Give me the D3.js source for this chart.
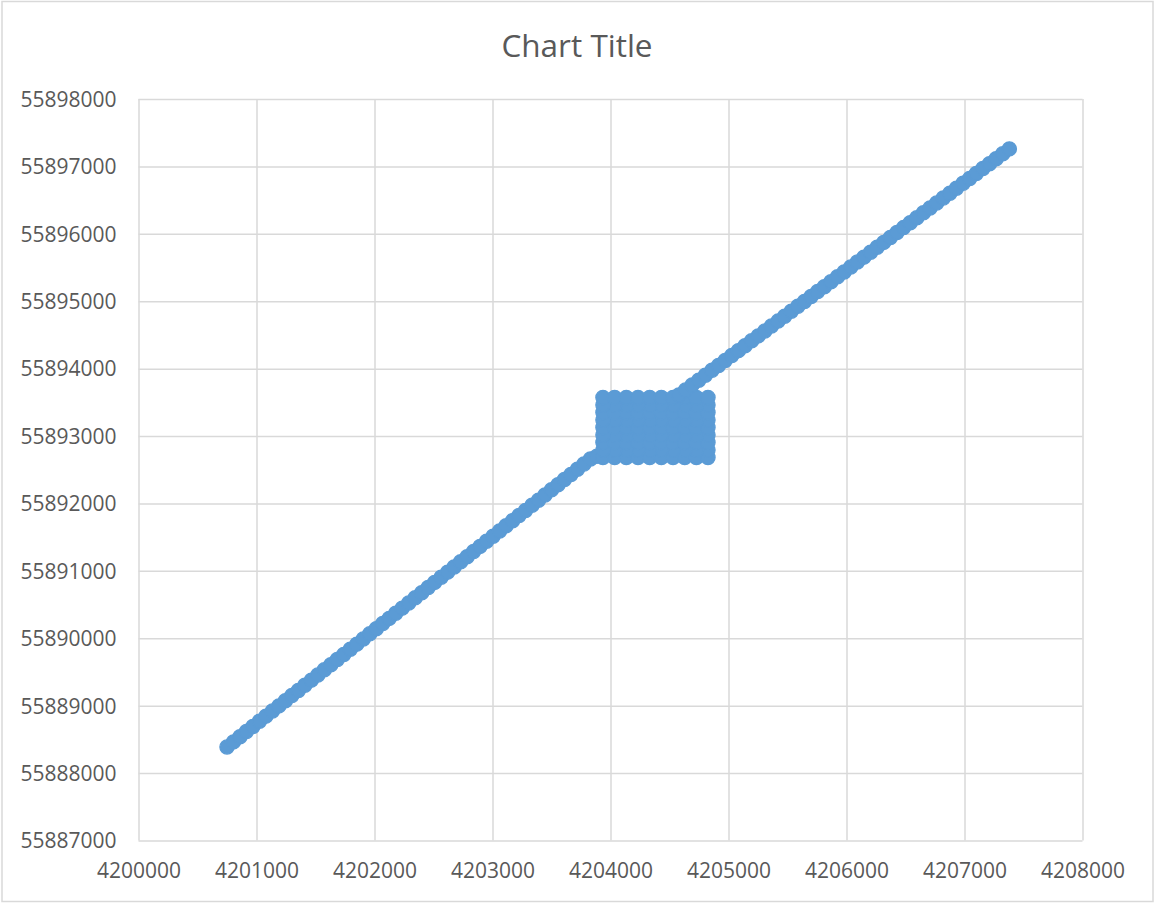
<!DOCTYPE html>
<html>
<head>
<meta charset="utf-8">
<script src="https://cdn.jsdelivr.net/npm/d3@7"></script>
<style>
  html, body { margin: 0; padding: 0; background: #ffffff; }
  svg { display: block; font-family: "Open Sans", "Noto Sans", sans-serif; }
</style>
</head>
<body>
<svg id="chart" width="1155" height="903"></svg>
<script>
// GPS track: [easting, northing]
const approachTrack = [
  [4200750, 55888387], [4200805, 55888463], [4200860, 55888540], [4200915, 55888616],
  [4200970, 55888692], [4201025, 55888769], [4201080, 55888845], [4201135, 55888921],
  [4201190, 55888997], [4201245, 55889074], [4201300, 55889150], [4201355, 55889226],
  [4201410, 55889303], [4201465, 55889379], [4201520, 55889455], [4201575, 55889532],
  [4201630, 55889608], [4201685, 55889684], [4201740, 55889760], [4201795, 55889837],
  [4201850, 55889913], [4201905, 55889989], [4201960, 55890066], [4202015, 55890142],
  [4202070, 55890218], [4202125, 55890295], [4202180, 55890371], [4202235, 55890447],
  [4202290, 55890523], [4202345, 55890600], [4202400, 55890676], [4202455, 55890752],
  [4202510, 55890829], [4202565, 55890905], [4202620, 55890981], [4202675, 55891058],
  [4202730, 55891134], [4202785, 55891210], [4202840, 55891286], [4202895, 55891363],
  [4202950, 55891439], [4203005, 55891515], [4203060, 55891592], [4203115, 55891668],
  [4203170, 55891744], [4203225, 55891821], [4203280, 55891897], [4203335, 55891973],
  [4203390, 55892049], [4203445, 55892126], [4203500, 55892202], [4203555, 55892278],
  [4203610, 55892355], [4203665, 55892431], [4203720, 55892507], [4203775, 55892584],
  [4203830, 55892660], [4203885, 55892700]
];

// survey block: column eastings and row northings
const gridColumns = [4203936, 4204035, 4204134, 4204233, 4204332, 4204431, 4204530, 4204629, 4204728, 4204826];
const gridRows = [55892683, 55892794, 55892906, 55893017, 55893128, 55893239, 55893350, 55893462, 55893573];

const departureTrack = [
  [4204580, 55893610], [4204636, 55893683], [4204692, 55893756], [4204748, 55893829],
  [4204804, 55893902], [4204860, 55893975], [4204916, 55894048], [4204972, 55894121],
  [4205028, 55894194], [4205084, 55894267], [4205140, 55894340], [4205196, 55894413],
  [4205252, 55894486], [4205308, 55894559], [4205364, 55894632], [4205420, 55894705],
  [4205476, 55894778], [4205532, 55894851], [4205588, 55894924], [4205644, 55894997],
  [4205700, 55895070], [4205756, 55895143], [4205812, 55895216], [4205868, 55895289],
  [4205924, 55895362], [4205980, 55895435], [4206036, 55895508], [4206092, 55895581],
  [4206148, 55895654], [4206204, 55895727], [4206260, 55895800], [4206316, 55895873],
  [4206372, 55895946], [4206428, 55896019], [4206484, 55896092], [4206540, 55896165],
  [4206596, 55896238], [4206652, 55896311], [4206708, 55896384], [4206764, 55896457],
  [4206820, 55896530], [4206876, 55896603], [4206932, 55896676], [4206988, 55896749],
  [4207044, 55896822], [4207100, 55896895], [4207156, 55896968], [4207212, 55897041],
  [4207268, 55897114], [4207324, 55897187], [4207380, 55897260]
];

const xTicks = [4200000, 4201000, 4202000, 4203000, 4204000, 4205000, 4206000, 4207000, 4208000];
const yTicks = [55887000, 55888000, 55889000, 55890000, 55891000, 55892000, 55893000,
                55894000, 55895000, 55896000, 55897000, 55898000];
const chartTitle = "Chart Title";

// survey block points in serpentine order
const surveyGrid = [];
gridRows.forEach((ry, ri) => {
  const cols = ri % 2 === 0 ? gridColumns : gridColumns.slice().reverse();
  cols.forEach(cx => surveyGrid.push([cx, ry]));
});
const points = approachTrack.concat(surveyGrid, departureTrack);

const svg = d3.select("#chart");
const W = 1155, H = 903;
const plot = { left: 138.5, right: 1082.5, top: 99, bottom: 840.5 };

const x = d3.scaleLinear().domain([4200000, 4208000]).range([plot.left, plot.right]);
const y = d3.scaleLinear().domain([55887000, 55898000]).range([plot.bottom, plot.top]);

const gridColor = "#d9d9d9";
const textColor = "#595959";

// chart border
svg.append("rect")
  .attr("x", 2).attr("y", 1.5)
  .attr("width", W - 4).attr("height", H - 3)
  .attr("fill", "#ffffff")
  .attr("stroke", gridColor).attr("stroke-width", 1.5);

// title
svg.append("text")
  .attr("x", 577).attr("y", 57)
  .attr("text-anchor", "middle")
  .attr("font-size", 31.5)
  .attr("fill", textColor)
  .text(chartTitle);

// vertical gridlines + x labels
const xAxis = d3.axisBottom(x)
  .tickValues(xTicks)
  .tickFormat(d3.format("d"))
  .tickSize(-(plot.bottom - plot.top))
  .tickPadding(0);
const gx = svg.append("g")
  .attr("transform", `translate(0,${plot.bottom})`)
  .call(xAxis);
gx.select(".domain").remove();
gx.selectAll(".tick line").attr("stroke", gridColor).attr("stroke-width", 1.5);
gx.selectAll(".tick text")
  .attr("y", 37).attr("dy", 0)
  .attr("font-size", 21)
  .attr("font-family", '"Open Sans", "Noto Sans", sans-serif')
  .attr("fill", textColor);

// horizontal gridlines + y labels
const yAxis = d3.axisLeft(y)
  .tickValues(yTicks)
  .tickFormat(d3.format("d"))
  .tickSize(-(plot.right - plot.left))
  .tickPadding(0);
const gy = svg.append("g")
  .attr("transform", `translate(${plot.left},0)`)
  .call(yAxis);
gy.select(".domain").remove();
gy.selectAll(".tick line").attr("stroke", gridColor).attr("stroke-width", 1.5);
gy.selectAll(".tick text")
  .attr("x", -22).attr("dy", "0.35em")
  .attr("text-anchor", "end")
  .attr("font-size", 21)
  .attr("font-family", '"Open Sans", "Noto Sans", sans-serif')
  .attr("fill", textColor);

// markers
svg.append("g")
  .selectAll("circle")
  .data(points)
  .join("circle")
  .attr("cx", d => x(d[0]))
  .attr("cy", d => y(d[1]))
  .attr("r", 7.1)
  .attr("fill", "#5b9bd5")
  .attr("stroke", "#5b9bd5")
  .attr("stroke-width", 1.3);
</script>
</body>
</html>
